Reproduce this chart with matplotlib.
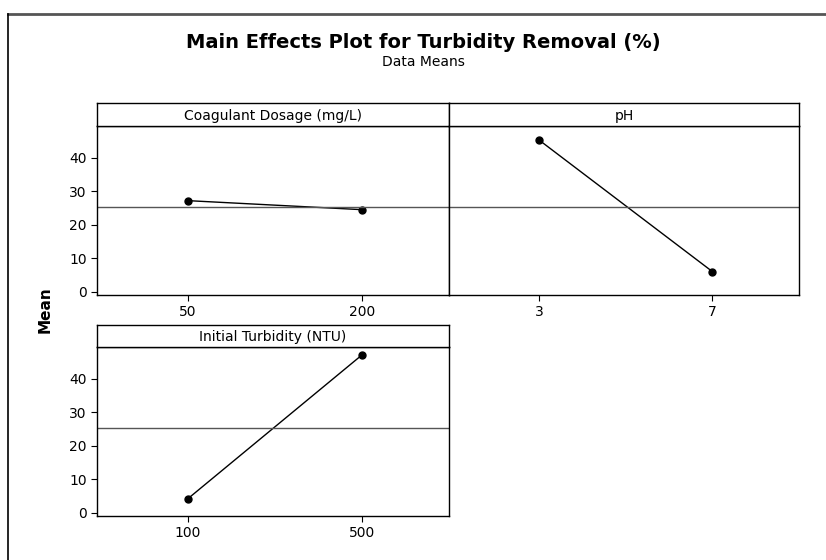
import matplotlib.pyplot as plt

factors = ['Coagulant Dosage (mg/L)', 'pH', 'Initial Turbidity (NTU)']
levels = [['50', '200'], ['3', '7'], ['100', '500']]
means = [[27.2, 24.5], [45.3, 6.0], [4.1, 47.1]]
grand_mean = 25.4

W, H = 826, 560
fig = plt.figure(figsize=(W / 100, H / 100), dpi=100)

def box(x0, y0, x1, y1):
    # pixel coords (top-left origin) -> figure fraction
    return [x0 / W, 1 - y1 / H, (x1 - x0) / W, (y1 - y0) / H]

# outer frame of the graph window
fig.add_artist(plt.Line2D([8 / W, 1], [1 - 14 / H, 1 - 14 / H], color='#555555', lw=2))
fig.add_artist(plt.Line2D([8 / W, 8 / W], [0, 1 - 14 / H], color='black', lw=1.2))

panels = [(97, 449, 103, 126, 295), (449, 799, 103, 126, 295), (97, 449, 325, 347, 516)]

for i, (x0, x1, s0, s1, y1) in enumerate(panels):
    ax = fig.add_axes(box(x0, s1, x1, y1))
    ax.plot([0, 1], means[i], color='black', lw=1, marker='o', ms=5)
    ax.axhline(grand_mean, color='#555555', lw=1)
    ax.set_xlim(-0.52, 1.5)
    ax.set_ylim(-1, 49.5)
    ax.set_xticks([0, 1])
    ax.set_xticklabels(levels[i], fontsize=10)
    ax.set_yticks([0, 10, 20, 30, 40])
    if i == 1:
        ax.tick_params(axis='y', left=False, labelleft=False)
    ax.tick_params(direction='out', length=4, width=0.8, labelsize=10, colors='black')
    for sp in ax.spines.values():
        sp.set_linewidth(1)
    st = fig.add_axes(box(x0, s0, x1, s1))
    st.set_xticks([])
    st.set_yticks([])
    for sp in st.spines.values():
        sp.set_linewidth(1)
    st.text(0.5, 0.45, factors[i], ha='center', va='center', fontsize=10, transform=st.transAxes)

fig.text(423 / W, 1 - 43 / H, 'Main Effects Plot for Turbidity Removal (%)', ha='center', va='center',
         fontsize=14, fontweight='bold')
fig.text(423 / W, 1 - 62 / H, 'Data Means', ha='center', va='center', fontsize=10)
fig.text(45 / W, 1 - 310 / H, 'Mean', ha='center', va='center', rotation=90, fontsize=11, fontweight='bold')

plt.savefig('out.png', dpi=100)
